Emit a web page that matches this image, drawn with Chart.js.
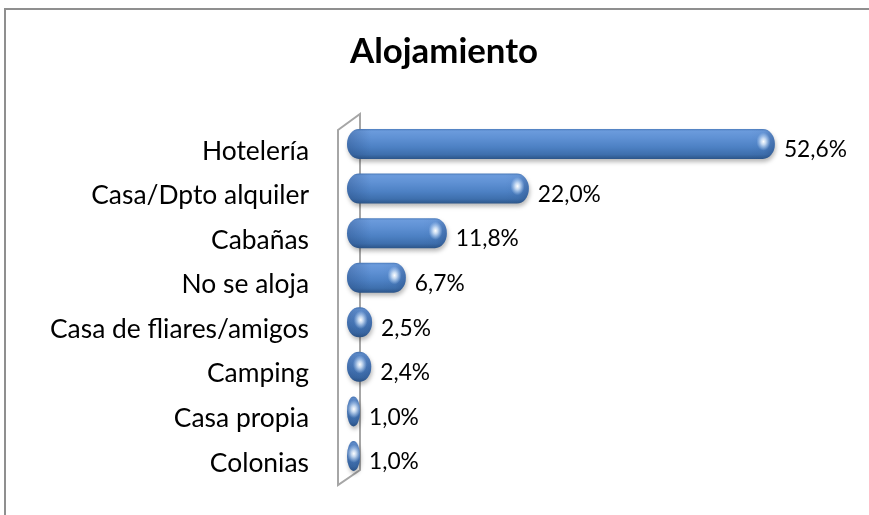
<!DOCTYPE html>
<html><head><meta charset="utf-8">
<script src="https://cdn.jsdelivr.net/npm/chart.js@4"></script>
<style>html,body{margin:0;padding:0;background:#fff;overflow:hidden}canvas{display:block}</style>
</head><body>
<canvas id="c" width="869" height="515"></canvas>
<script>
// ---- data ----
const categories = ['Hotelería','Casa/Dpto alquiler','Cabañas','No se aloja','Casa de fliares/amigos','Camping','Casa propia','Colonias'];
const values = [52.6, 22.0, 11.8, 6.7, 2.5, 2.4, 1.0, 1.0];
const titleText = 'Alojamiento';
const valueLabels = values.map(v => v.toFixed(1).replace('.', ',') + '%');

// ---- styling ----
const FAMILY = 'Lato, "Open Sans", sans-serif';
function fitSize(text, target, weight){
  const c = document.createElement('canvas').getContext('2d');
  c.font = weight + ' 100px ' + FAMILY;
  return 100 * target / c.measureText(text).width;
}
const catSize = fitSize('Casa/Dpto alquiler', 218, 'normal');
const valSize = fitSize('52,6%', 63, 'normal');
const titleSize = fitSize('Alojamiento', 188, 'bold');

function barPath(ctx, left, right, cy, h){
  const w = Math.max(right - left, 2), ry = h/2, rx = Math.min(12, w/2), top = cy - ry;
  ctx.beginPath();
  ctx.moveTo(left + rx, top);
  ctx.lineTo(right - rx, top);
  ctx.ellipse(right - rx, cy, rx, ry, 0, -Math.PI/2, Math.PI/2);
  ctx.lineTo(left + rx, top + h);
  ctx.ellipse(left + rx, cy, rx, ry, 0, Math.PI/2, Math.PI*1.5);
  ctx.closePath();
  return rx;
}

const decor = {
  id: 'decor',
  beforeDraw(chart){
    const ctx = chart.ctx;
    ctx.save();
    ctx.fillStyle = '#fff';
    ctx.fillRect(0, 0, chart.width, chart.height);
    ctx.strokeStyle = '#8f8f8f';
    ctx.lineWidth = 2;
    ctx.beginPath();
    ctx.moveTo(5, 600);
    ctx.lineTo(5, 9);
    ctx.lineTo(1000, 9);
    ctx.stroke();
    ctx.restore();
  },
  beforeDatasetsDraw(chart){
    const ctx = chart.ctx, a = chart.chartArea;
    const fx = a.left - 9, bx = a.left + 13;
    ctx.save();
    ctx.strokeStyle = '#a6a6a6';
    ctx.lineWidth = 2;
    ctx.beginPath();
    ctx.moveTo(fx, a.top + 8.3);
    ctx.lineTo(bx, a.top - 7.7);
    ctx.lineTo(bx, a.bottom - 8.3);
    ctx.lineTo(fx, a.bottom + 6.7);
    ctx.closePath();
    ctx.stroke();
    ctx.restore();
  },
  afterDatasetsDraw(chart){
    const ctx = chart.ctx;
    const meta = chart.getDatasetMeta(0);
    meta.data.forEach((el, i) => {
      const p = el.getProps(['x','y','base','height'], true);
      const left = p.base, right = p.x + 5, h = p.height, cy = p.y, top = cy - h/2;
      ctx.save();
      const g = ctx.createLinearGradient(0, top, 0, top + h);
      g.addColorStop(0.00, '#4d7dbd');
      g.addColorStop(0.07, '#6b9bdc');
      g.addColorStop(0.30, '#5f91d4');
      g.addColorStop(0.60, '#4d81c4');
      g.addColorStop(0.85, '#3e6fad');
      g.addColorStop(1.00, '#2c5589');
      ctx.shadowColor = 'rgba(0,0,0,0.28)';
      ctx.shadowBlur = 4;
      ctx.shadowOffsetX = 1;
      ctx.shadowOffsetY = 3;
      const rx = barPath(ctx, left, right, cy, h);
      ctx.fillStyle = g;
      ctx.fill();
      ctx.shadowColor = 'transparent';
      barPath(ctx, left, right, cy, h);
      ctx.clip();
      const gr = ctx.createLinearGradient(right - 2*rx, 0, right, 0);
      gr.addColorStop(0, 'rgba(30,60,110,0)');
      gr.addColorStop(0.55, 'rgba(30,60,110,0.05)');
      gr.addColorStop(1, 'rgba(30,60,110,0.35)');
      ctx.fillStyle = gr;
      ctx.fillRect(right - 2*rx, top, 2*rx, h);
      const gl = ctx.createLinearGradient(left, 0, left + 2*rx, 0);
      gl.addColorStop(0, 'rgba(30,60,110,0.30)');
      gl.addColorStop(1, 'rgba(30,60,110,0)');
      ctx.fillStyle = gl;
      ctx.fillRect(left, top, 2*rx, h);
      const hx = right - rx*0.95, hy = cy - h*0.08;
      ctx.translate(hx, hy);
      ctx.scale(1, 1.3);
      const rg = ctx.createRadialGradient(0, 0, 0, 0, 0, 7);
      rg.addColorStop(0, 'rgba(255,255,255,1)');
      rg.addColorStop(0.35, 'rgba(235,245,255,0.75)');
      rg.addColorStop(1, 'rgba(200,225,255,0)');
      ctx.fillStyle = rg;
      ctx.fillRect(-8, -8, 16, 16);
      ctx.restore();
      ctx.save();
      ctx.fillStyle = '#000';
      ctx.font = valSize.toFixed(2) + 'px ' + FAMILY;
      ctx.textAlign = 'left';
      ctx.textBaseline = 'middle';
      ctx.fillText(valueLabels[i], right + 9, cy + 6);
      ctx.restore();
    });
  },
  afterDraw(chart){
    const ctx = chart.ctx;
    ctx.save();
    ctx.fillStyle = '#000';
    ctx.font = 'bold ' + titleSize.toFixed(2) + 'px ' + FAMILY;
    ctx.textAlign = 'center';
    ctx.textBaseline = 'alphabetic';
    ctx.fillText(titleText, 444, 63);
    ctx.restore();
  }
};

new Chart(document.getElementById('c'), {
  type: 'bar',
  data: {
    labels: categories,
    datasets: [{
      data: values,
      backgroundColor: 'rgba(0,0,0,0)',
      borderWidth: 0,
      barThickness: 30
    }]
  },
  options: {
    indexAxis: 'y',
    responsive: false,
    animation: false,
    devicePixelRatio: 1,
    layout: { padding: { top: 121.7, bottom: 36.7, left: 0, right: 15.5 } },
    plugins: { legend: { display: false }, title: { display: false }, tooltip: { enabled: false } },
    scales: {
      x: { display: false, min: 0, max: 63 },
      y: {
        grid: { display: false, drawTicks: false, tickLength: 0 },
        border: { display: false },
        afterFit(scale){ scale.width = 347; scale.paddingTop = 0; scale.paddingBottom = 0; },
        ticks: {
          autoSkip: false,
          color: '#000',
          padding: 38,
          labelOffset: 7,
          font: { family: FAMILY, size: catSize }
        }
      }
    }
  },
  plugins: [decor]
});
</script>
</body></html>
